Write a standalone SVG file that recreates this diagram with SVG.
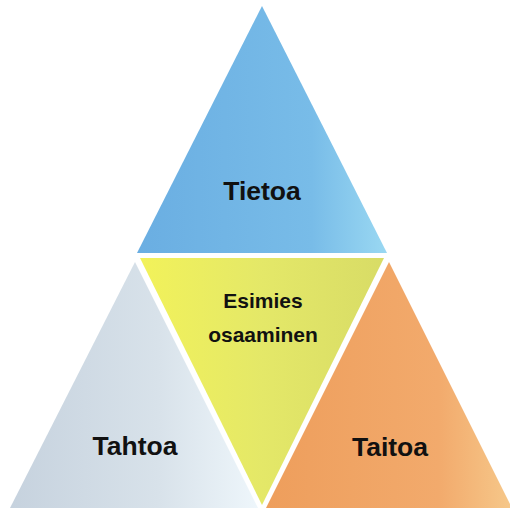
<svg xmlns="http://www.w3.org/2000/svg" width="510" height="512" viewBox="0 0 510 512">
<defs>
<linearGradient id="gBlue" x1="0" y1="0" x2="1" y2="0">
<stop offset="0" stop-color="#6aaee2"/>
<stop offset="0.7" stop-color="#78bce8"/>
<stop offset="1" stop-color="#9ad8f2"/>
</linearGradient>
<linearGradient id="gYellow" x1="0" y1="0" x2="1" y2="0">
<stop offset="0" stop-color="#f2f25a"/>
<stop offset="0.5" stop-color="#e4e868"/>
<stop offset="1" stop-color="#d8dc66"/>
</linearGradient>
<linearGradient id="gGray" x1="0" y1="0" x2="1" y2="0">
<stop offset="0" stop-color="#c6d2de"/>
<stop offset="0.6" stop-color="#d8e2ea"/>
<stop offset="1" stop-color="#eef6fb"/>
</linearGradient>
<linearGradient id="gOrange" x1="0" y1="0" x2="1" y2="0">
<stop offset="0" stop-color="#ee9e5c"/>
<stop offset="0.7" stop-color="#f2aa6c"/>
<stop offset="1" stop-color="#f6c88a"/>
</linearGradient>
</defs>
<style>
.lbl{font-family:"Liberation Sans",Arial,sans-serif;font-weight:bold;fill:#111;text-anchor:middle}
.big{font-size:26.5px}
.mid{font-size:21px}
</style>
<rect width="510" height="512" fill="#ffffff"/>
<g id="tietoa">
<polygon points="262,6 137,253 387,253" fill="url(#gBlue)"/>
<text class="lbl big" x="262" y="200">Tietoa</text>
</g>
<g id="esimies">
<polygon points="140,258 384,258 262,505" fill="url(#gYellow)"/>
<text class="lbl mid" x="263" y="308">Esimies</text>
<text class="lbl mid" x="263" y="342">osaaminen</text>
</g>
<g id="tahtoa">
<polygon points="135,262 10,508 258,508" fill="url(#gGray)"/>
<text class="lbl big" x="135" y="455">Tahtoa</text>
</g>
<g id="taitoa">
<polygon points="389,262 266,508 512,508" fill="url(#gOrange)"/>
<text class="lbl big" x="390" y="456">Taitoa</text>
</g>
<g id="connectors"></g>
</svg>
